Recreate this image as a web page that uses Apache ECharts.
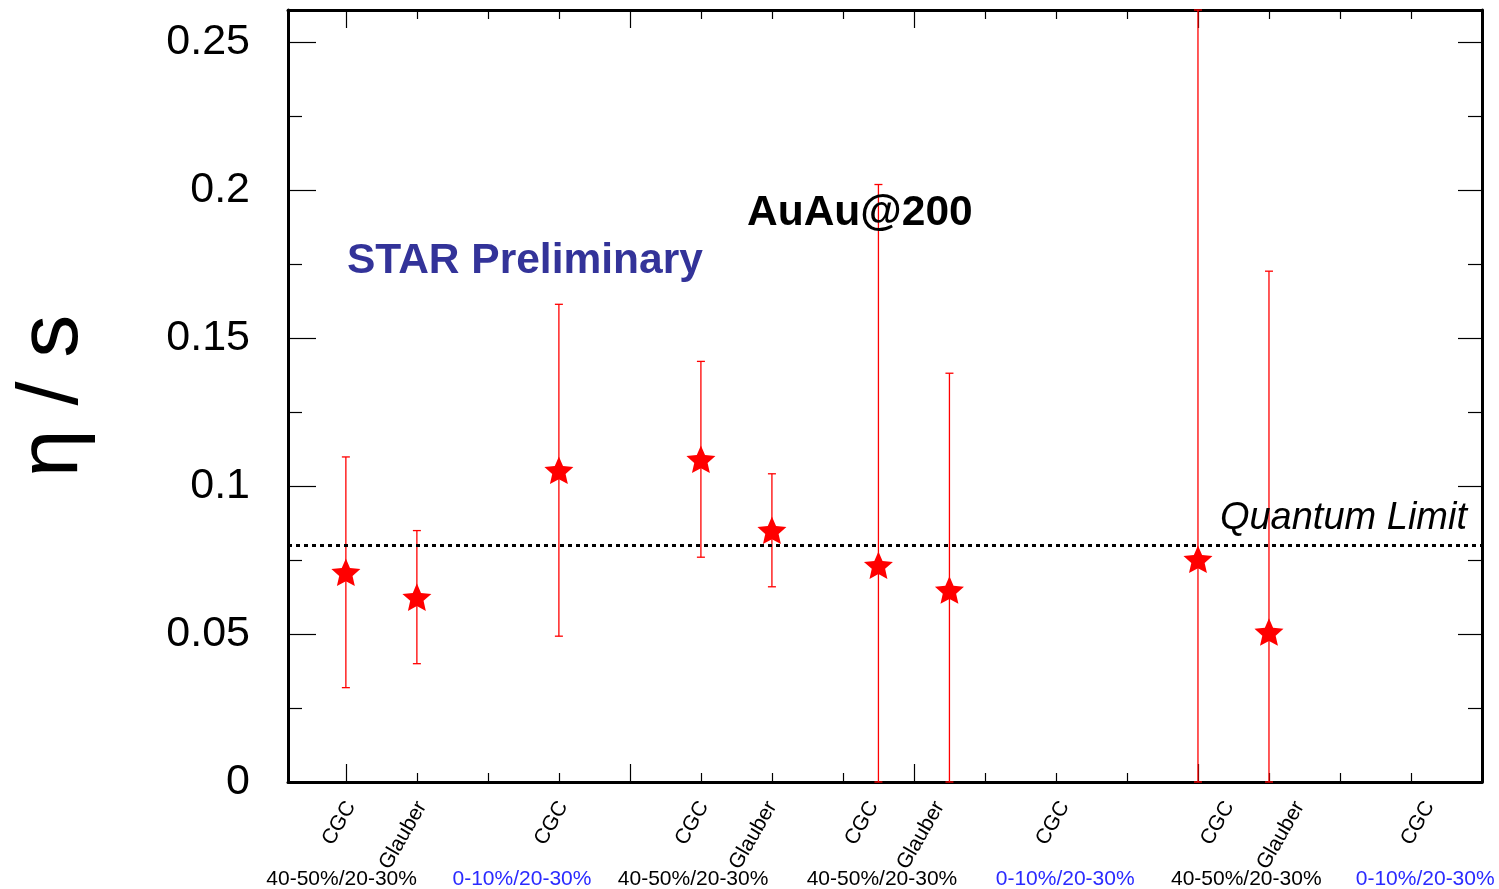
<!DOCTYPE html>
<html><head><meta charset="utf-8">
<script src="https://cdn.jsdelivr.net/npm/echarts@6/dist/echarts.min.js"></script>
<style>html,body{margin:0;padding:0;background:#fff}#c{width:1499px;height:889px}</style>
</head><body><div id="c"></div>
<script>
// ---- data ----
const xPos   = [0, 1, 3, 5, 6, 7.5, 8.5, 12, 13];
const etaS   = [0.0709, 0.0625, 0.1054, 0.1091, 0.0851, 0.0733, 0.0649, 0.0753, 0.0507];
const etaErr = [0.039, 0.0225, 0.0561, 0.0331, 0.0191, 0.1287, 0.0733, 0.2, 0.122];
const modelLabels   = ['CGC','Glauber','CGC','CGC','Glauber','CGC','Glauber','CGC','CGC','Glauber','CGC'];
const modelLabelPos = [0.07, 1.07, 3.06, 5.04, 6.0, 7.43, 8.36, 10.12, 12.44, 13.43, 15.26];
const centLabels   = ['40-50%/20-30%','0-10%/20-30%','40-50%/20-30%','40-50%/20-30%','0-10%/20-30%','40-50%/20-30%','0-10%/20-30%'];
const centLabelPos = [-0.06, 2.48, 4.89, 7.55, 10.13, 12.68, 15.2];
const yMajorTicks = [0, 0.05, 0.1, 0.15, 0.2, 0.25];
const yMinorTicks = [0.025, 0.075, 0.125, 0.175, 0.225];
const xMajorTicks = [0, 4, 8, 12];
const xMinorTicks = [1, 2, 3, 5, 6, 7, 9, 10, 11, 13, 14, 15];
const quantumLimit = 0.08;
const X_MIN = -0.815, X_MAX = 16, Y_MIN = 0, Y_MAX = 0.261;

const FONT = '"Liberation Sans", Arial, Helvetica, sans-serif';
const STAR = 'path://M50 0 L63.5 31.5 L97.55 34.55 L71.9 57.2 L79.39 90.45 L50 74.5 L20.61 90.45 L28.1 57.2 L2.45 34.55 L36.5 31.5 Z';

function idxOf(arr, v){ let b=0, d=1e9; arr.forEach((a,i)=>{ const dd=Math.abs(a-v); if(dd<d){d=dd;b=i;} }); return b; }

const noLine = {show:false, onZero:false};
const baseX = {type:'value', min:X_MIN, max:X_MAX, splitLine:{show:false},
  axisLabel:{show:false}, axisLine:noLine, axisTick:{show:false}};
const baseY = {type:'value', min:Y_MIN, max:Y_MAX, splitLine:{show:false},
  axisLabel:{show:false}, axisLine:noLine, axisTick:{show:false}};
const frameLine = {show:true, onZero:false, lineStyle:{color:'#000', width:3}};
const tickStyle = {color:'#000', width:1.2};

const chart = echarts.init(document.getElementById('c'), null, {renderer:'canvas'});
chart.setOption({
  backgroundColor:'#fff',
  animation:false,
  grid:{left:288, right:17, top:10, bottom:107, containLabel:false, outerBoundsMode:'none'},
  xAxis:[
    Object.assign({}, baseX, {position:'bottom', axisLine:frameLine,
      axisTick:{show:true, inside:true, length:18, customValues:xMajorTicks, lineStyle:tickStyle},
      axisLabel:{show:true, customValues:modelLabelPos, rotate:60, margin:21, fontSize:21,
        color:'#000', fontFamily:FONT, formatter:(v)=>modelLabels[idxOf(modelLabelPos, v)]}}),
    Object.assign({}, baseX, {position:'bottom',
      axisTick:{show:true, inside:true, length:9, customValues:xMinorTicks, lineStyle:tickStyle}}),
    Object.assign({}, baseX, {position:'top', axisLine:frameLine,
      axisTick:{show:true, inside:true, length:18, customValues:xMajorTicks, lineStyle:tickStyle}}),
    Object.assign({}, baseX, {position:'top',
      axisTick:{show:true, inside:true, length:9, customValues:xMinorTicks, lineStyle:tickStyle}}),
    Object.assign({}, baseX, {position:'bottom',
      axisLabel:{show:true, customValues:centLabelPos, margin:87, fontSize:21, fontFamily:FONT,
        formatter:(v)=>{ const t = centLabels[idxOf(centLabelPos, v)]; return t.indexOf('0-10')===0 ? '{b|'+t+'}' : '{k|'+t+'}'; },
        rich:{b:{color:'#2a2aff', fontSize:21, fontFamily:FONT}, k:{color:'#000', fontSize:21, fontFamily:FONT}}}})
  ],
  yAxis:[
    Object.assign({}, baseY, {position:'left', axisLine:frameLine,
      axisTick:{show:true, inside:true, length:28, customValues:yMajorTicks, lineStyle:tickStyle},
      axisLabel:{show:true, customValues:yMajorTicks, fontSize:43, margin:38, color:'#000', fontFamily:FONT,
        formatter:(v)=>String(v)},
      name:'η / s', nameLocation:'middle', nameGap:192, nameRotate:90,
      nameTextStyle:{fontSize:86, color:'#000', fontFamily:FONT}}),
    Object.assign({}, baseY, {position:'left',
      axisTick:{show:true, inside:true, length:14, customValues:yMinorTicks, lineStyle:tickStyle}}),
    Object.assign({}, baseY, {position:'right', axisLine:frameLine,
      axisTick:{show:true, inside:true, length:24, customValues:yMajorTicks, lineStyle:tickStyle}}),
    Object.assign({}, baseY, {position:'right',
      axisTick:{show:true, inside:true, length:14, customValues:yMinorTicks, lineStyle:tickStyle}})
  ],
  graphic:[
    {type:'text', x:347, y:261, z:10, style:{text:'STAR Preliminary', fill:'#333399',
      font:'bold 42.5px '+FONT, align:'left', verticalAlign:'middle'}},
    {type:'text', x:747, y:213, z:10, style:{text:'AuAu@200', fill:'#000',
      font:'bold 42.5px '+FONT, align:'left', verticalAlign:'middle'}},
    {type:'text', x:1467, y:518, z:10, style:{text:'Quantum Limit', fill:'#000',
      font:'italic 38px '+FONT, align:'right', verticalAlign:'middle'}}
  ],
  series:[
    {
      type:'custom', xAxisIndex:0, yAxisIndex:0, z:3,
      data: xPos.map((x,i)=>[x, etaS[i], etaErr[i]]),
      encode:{x:0, y:1},
      renderItem:(params, api)=>{
        const x = api.value(0), y = api.value(1), e = api.value(2);
        const lo = Math.max(y - e, Y_MIN), hi = Math.min(y + e, Y_MAX);
        const p0 = api.coord([x, lo]), p1 = api.coord([x, hi]);
        const hw = 4, st = {stroke:'#ff0000', lineWidth:1.3};
        return {type:'group', children:[
          {type:'line', shape:{x1:p0[0], y1:p0[1], x2:p1[0], y2:p1[1]}, style:st},
          {type:'line', shape:{x1:p0[0]-hw, y1:p0[1], x2:p0[0]+hw, y2:p0[1]}, style:st},
          {type:'line', shape:{x1:p1[0]-hw, y1:p1[1], x2:p1[0]+hw, y2:p1[1]}, style:st}
        ]};
      }
    },
    {
      type:'scatter', xAxisIndex:0, yAxisIndex:0, z:4,
      data: xPos.map((x,i)=>[x, etaS[i]]),
      symbol:STAR, symbolSize:29, symbolKeepAspect:true,
      itemStyle:{color:'#ff0000', opacity:1},
      markLine:{silent:true, symbol:['none','none'], label:{show:false},
        lineStyle:{color:'#000', width:3, type:[4,4], opacity:1},
        data:[{yAxis:quantumLimit}]}
    }
  ]
});
</script></body></html>
